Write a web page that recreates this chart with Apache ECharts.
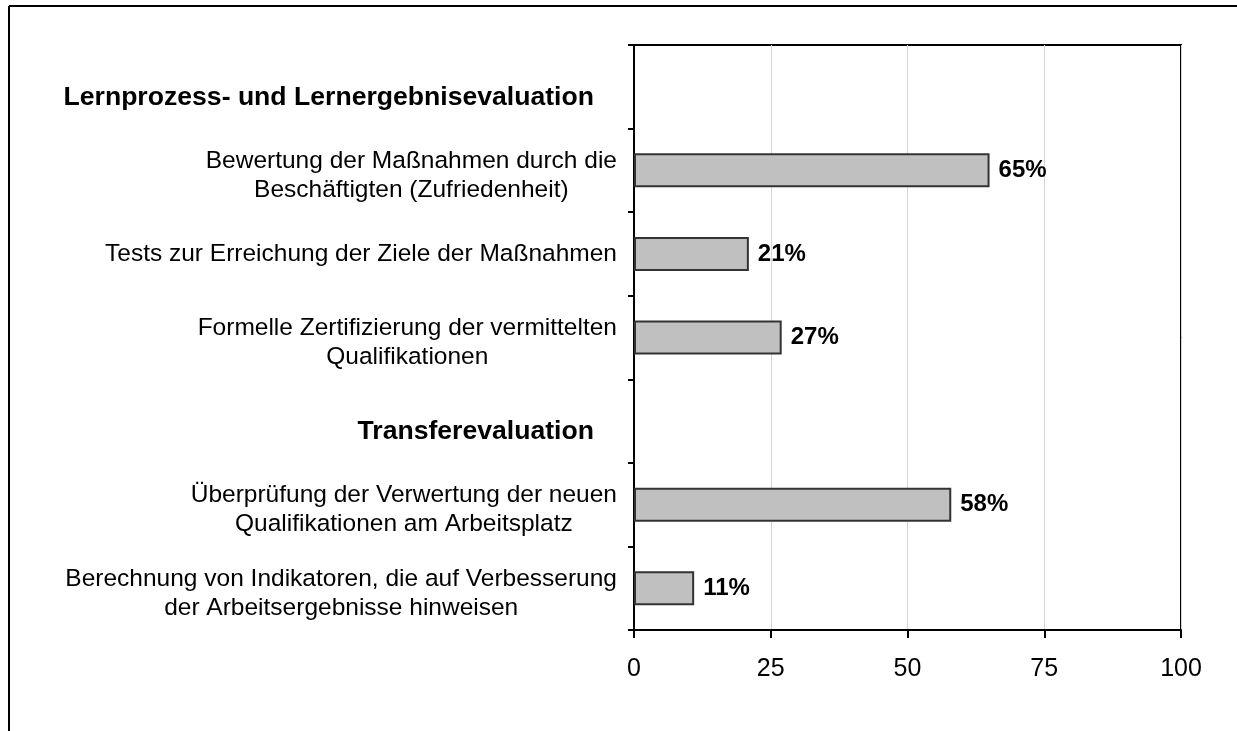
<!DOCTYPE html>
<html>
<head>
<meta charset="utf-8">
<script src="https://cdn.jsdelivr.net/npm/echarts@6/dist/echarts.min.js"></script>
<style>
  html, body { margin: 0; padding: 0; background: #fff; }
  #chart { width: 1237px; height: 731px; }
</style>
</head>
<body>
<div id="chart"></div>
<script>
// Kategorien von oben nach unten; Überschriften haben keinen Balken
const categories = [
  'Lernprozess- und Lernergebnisevaluation',
  'Bewertung der Maßnahmen durch die\nBeschäftigten (Zufriedenheit)',
  'Tests zur Erreichung der Ziele der Maßnahmen',
  'Formelle Zertifizierung der vermittelten\nQualifikationen',
  'Transferevaluation',
  'Überprüfung der Verwertung der neuen\nQualifikationen am Arbeitsplatz',
  'Berechnung von Indikatoren, die auf Verbesserung\nder Arbeitsergebnisse hinweisen'
];
const headers = ['Lernprozess- und Lernergebnisevaluation', 'Transferevaluation'];
const values = [null, 65, 21, 27, null, 58, 11];
const xTicks = [0, 25, 50, 75, 100];

const FONT = '"Liberation Sans", Arial, sans-serif';
const chart = echarts.init(document.getElementById('chart'));

chart.setOption({
  backgroundColor: '#fff',
  animation: false,
  textStyle: { fontFamily: FONT },
  grid: {
    left: 634, right: 56, top: 45, bottom: 101,
    outerBoundsMode: 'none',
    show: true, borderColor: '#000', borderWidth: 2
  },
  xAxis: {
    type: 'value',
    min: xTicks[0],
    max: xTicks[xTicks.length - 1],
    interval: xTicks[1] - xTicks[0],
    axisLine: { show: true, lineStyle: { color: '#000', width: 2 } },
    axisTick: { show: true, length: 8, lineStyle: { color: '#000', width: 2 } },
    splitLine: { show: true, lineStyle: { color: '#d4d4d4', width: 1 } },
    axisLabel: { color: '#000', fontSize: 25, margin: 27, fontFamily: FONT }
  },
  yAxis: {
    type: 'category',
    inverse: true,
    data: categories,
    axisLine: { show: true, lineStyle: { color: '#000', width: 2 } },
    axisTick: { show: true, length: 6, lineStyle: { color: '#000', width: 2 } },
    axisLabel: {
      margin: 17,
      color: '#000',
      formatter: (val) => {
        if (headers.includes(val)) return `{h|${val}}`;
        const lines = val.split('\n');
        if (lines.length === 1) return `{n|${val}}`;
        // mehrzeilige Labels sitzen im Original etwas tiefer
        return lines.map((line, i) => `{${i === 0 ? 'f' : 'n'}|${line}}`).join('\n');
      },
      rich: {
        n: { fontSize: 24.5, lineHeight: 29, align: 'center', color: '#000', fontFamily: FONT },
        f: { fontSize: 24.5, lineHeight: 40, align: 'center', color: '#000', fontFamily: FONT, padding: [11, 0, 0, 0] },
        h: { fontSize: 26.6, fontWeight: 'bold', color: '#000', fontFamily: FONT, padding: [22, 23, 0, 0] }
      }
    }
  },
  series: [{
    type: 'bar',
    data: values,
    barWidth: 34,
    itemStyle: { color: '#c0c0c0', borderColor: '#333', borderWidth: 2 },
    label: {
      show: true,
      position: 'right',
      distance: 9,
      formatter: (p) => p.value == null ? '' : `${p.value}%`,
      color: '#000',
      fontSize: 24,
      fontWeight: 'bold',
      fontFamily: FONT
    }
  }],
  graphic: [
    { type: 'line', shape: { x1: 9, y1: 6, x2: 1237, y2: 6 }, style: { stroke: '#000', lineWidth: 2 } },
    { type: 'line', shape: { x1: 9, y1: 6, x2: 9, y2: 731 }, style: { stroke: '#000', lineWidth: 2 } }
  ]
});
</script>
</body>
</html>
